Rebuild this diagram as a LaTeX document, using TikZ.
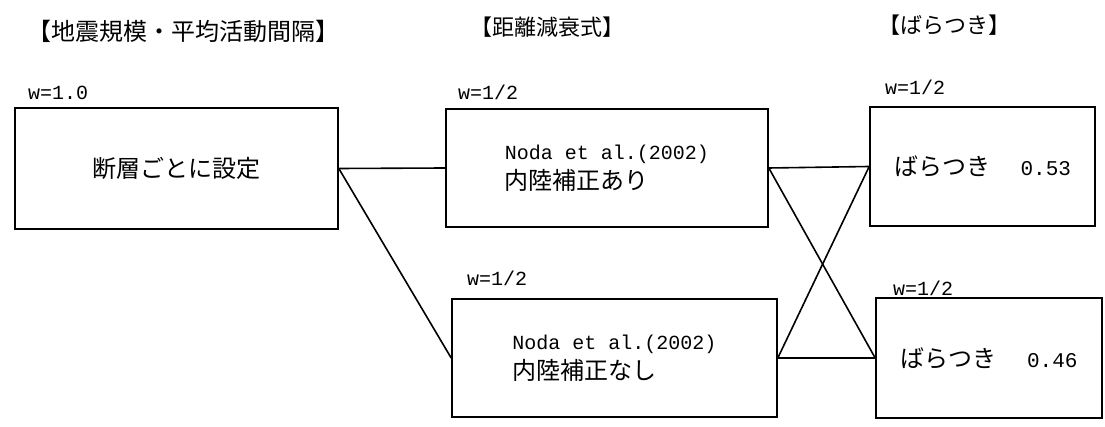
\documentclass[tikz,border=0pt]{standalone}
\usepackage{fontspec}
\newfontfamily\jp{Noto Sans CJK JP}
\newfontfamily\lmono{Liberation Mono}
\begin{document}
\begin{tikzpicture}[x=1pt,y=-1pt,
  box/.style={draw=black,line width=1.6pt,rectangle,inner sep=0pt,align=center},
  link/.style={draw=black,line width=1.6pt},
  wlab/.style={anchor=west,inner sep=0pt,font=\lmono\fontsize{20}{22}\selectfont},
  head/.style={anchor=west,inner sep=0pt},
  jpt/.style={font=\jp\fontsize{24}{30}\selectfont}]
\useasboundingbox (0,0) rectangle (1105,427);
\fill[white] (0,0) rectangle (1105,427);
% headers
\node[head,font=\jp\fontsize{24}{26}\selectfont] (h1) at (27,31) {【地震規模・平均活動間隔】};
\node[head,font=\jp\fontsize{22}{24}\selectfont] (h2) at (470,27) {【距離減衰式】};
\node[head,font=\jp\fontsize{22}{24}\selectfont] (h3) at (878,25) {【ばらつき】};
% weights
\node[wlab] (w1) at (28,93) {w=1.0};
\node[wlab] (w2) at (458,92) {w=1/2};
\node[wlab] (w3) at (467,278) {w=1/2};
\node[wlab] (w4) at (885,87) {w=1/2};
\node[wlab] (w5) at (893,288) {w=1/2};
% boxes
\node[box,jpt,minimum width=323,minimum height=121] (A) at (176.5,168.5) {断層ごとに設定};
\node[box,jpt,minimum width=322,minimum height=118,align=left] (B) at (607,168)
  {{\lmono\fontsize{20}{30}\selectfont Noda et al.(2002)}\\内陸補正あり};
\node[box,jpt,minimum width=325,minimum height=118,align=left] (C) at (614.5,358)
  {{\lmono\fontsize{20}{30}\selectfont Noda et al.(2002)}\\内陸補正なし};
\node[box,jpt,minimum width=225,minimum height=119] (D) at (982.5,166.5)
  {ばらつき\ {\lmono\fontsize{21}{24}\selectfont\ \ 0.53}};
\node[box,jpt,minimum width=226,minimum height=120] (E) at (989,358)
  {ばらつき\ {\lmono\fontsize{21}{24}\selectfont\ \ 0.46}};
% connectors
\draw[link] (A.east) -- (B.west);
\draw[link] (A.east) -- (C.west);
\draw[link] (B.east) -- (D.west);
\draw[link] (B.east) -- (E.west);
\draw[link] (C.east) -- (E.west);
\draw[link] (C.east) -- (D.west);
\end{tikzpicture}
\end{document}
